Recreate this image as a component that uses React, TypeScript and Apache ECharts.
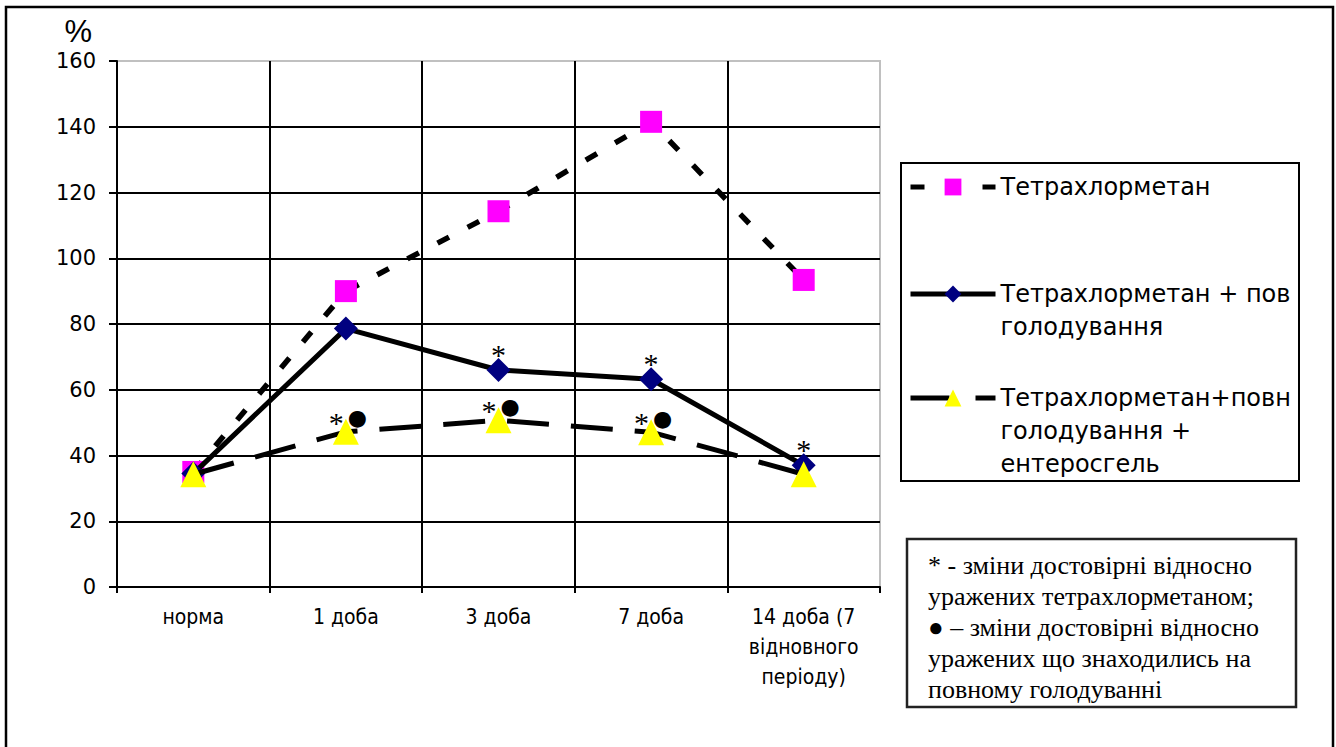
import React, { useEffect, useRef } from 'react';
import * as echarts from 'echarts';

const categories = ['норма', '1 доба', '3 доба', '7 доба', '14 доба (7\nвідновного\nперіоду)'];
const seriesNames = [
  'Тетрахлорметан',
  'Тетрахлорметан + повне голодування',
  'Тетрахлорметан+повне голодування + ентеросгель',
];
// visible (clipped) legend texts, as in the reference
const legendLabels = [
  'Тетрахлорметан',
  '\nТетрахлорметан + пов\nголодування',
  '\n\nТетрахлорметан+повн\nголодування +\nентеросгель',
];
const tetrachlormethane = [35, 90, 114.3, 141.5, 93.4];
const fasting = [34.5, 78.6, 66, 63.2, 37];
const fastingEnterosgel = [34.3, 47.2, 50.7, 47.1, 34.3];
const fastingMarks = ['', '', '*', '*', '*'];
const enterosgelMarks = ['', '*●', '*●', '*●', ''];
const yMin = 0;
const yMax = 160;
const yStep = 20;
const yUnit = '%';
const noteLines = [
  '* - зміни достовірні відносно',
  'уражених тетрахлорметаном;',
  '● – зміни достовірні відносно',
  'уражених що знаходились на',
  'повному голодуванні',
];

const SERIF = 'Liberation Serif, Times New Roman, serif';
const SANS = 'DejaVu Sans, sans-serif';
const NARROW = 'DejaVu Sans Condensed, sans-serif';

export default function App() {
  const ref = useRef<HTMLDivElement>(null);
  useEffect(() => {
    if (!ref.current) return;
    const chart = echarts.init(ref.current, undefined, { renderer: 'svg' });

    const legendBase = {
      orient: 'vertical',
      left: 908,
      padding: 0,
      itemWidth: 85,
      itemHeight: 21,
      itemGap: 0,
      selectedMode: false,
      textStyle: {
        fontFamily: SANS,
        fontSize: 24,
        color: '#000',
        lineHeight: 33,
      },
    };

    const starLabel = (mark: string) =>
      mark
        ? {
            show: true,
            position: 'inside',
            offset: [0, -16],
            formatter: mark,
            fontFamily: SERIF,
            fontSize: 30,
            color: '#000',
          }
        : { show: false };

    const starDotLabel = (mark: string) => {
      if (!mark) return { show: false };
      const [star, dot] = Array.from(mark);
      return {
        show: true,
        position: 'inside',
        offset: [2, -14],
        formatter: `{a|${star}}{b|${dot}}`,
        rich: {
          a: { fontFamily: SERIF, fontSize: 30, color: '#000', padding: [9, 0, 0, 0] },
          b: { fontFamily: SANS, fontSize: 22, color: '#000', padding: [0, 0, 0, 4] },
        },
      };
    };

    chart.setOption({
      animation: false,
      backgroundColor: '#fff',
      grid: {
        left: 117,
        top: 61,
        width: 763,
        height: 526,
        show: true,
        borderColor: '#c0c0c0',
        borderWidth: 2,
        backgroundColor: 'transparent',
      },
      xAxis: {
        type: 'category',
        data: categories,
        boundaryGap: true,
        axisLine: { lineStyle: { color: '#000', width: 2 } },
        axisTick: { show: true, length: 6, lineStyle: { color: '#000', width: 2 } },
        axisLabel: {
          interval: 0,
          fontFamily: NARROW,
          fontSize: 21,
          lineHeight: 30,
          color: '#000',
          margin: 15,
        },
        splitLine: { show: true, showMaxLine: false, lineStyle: { color: '#000', width: 2 } },
      },
      yAxis: {
        type: 'value',
        min: yMin,
        max: yMax,
        interval: yStep,
        name: yUnit,
        nameLocation: 'end',
        nameGap: 14,
        nameTextStyle: {
          fontFamily: 'Liberation Sans, Arial, sans-serif',
          fontSize: 31,
          color: '#000',
          align: 'right',
          padding: [0, 25, 0, 0],
        },
        axisLine: { show: true, lineStyle: { color: '#000', width: 2 } },
        axisTick: { show: true, length: 8, lineStyle: { color: '#000', width: 2 } },
        axisLabel: { fontFamily: SANS, fontSize: 21, color: '#000', margin: 21 },
        splitLine: { show: true, showMaxLine: false, lineStyle: { color: '#000', width: 2 } },
      },
      legend: [
        {
          ...legendBase,
          top: 170.5,
          data: [seriesNames[0]],
          lineStyle: { width: 5, type: [14, 58] },
          formatter: () => legendLabels[0],
        },
        {
          ...legendBase,
          top: 244.5,
          data: [seriesNames[1]],
          lineStyle: { width: 5, type: 'solid' },
          formatter: () => legendLabels[1],
        },
        {
          ...legendBase,
          top: 315.5,
          data: [seriesNames[2]],
          lineStyle: { width: 5, type: [39, 26] },
          formatter: () => legendLabels[2],
        },
      ],
      series: [
        {
          name: seriesNames[0],
          type: 'line',
          data: tetrachlormethane,
          symbol: 'rect',
          symbolSize: 22,
          itemStyle: { color: '#FF00FF' },
          lineStyle: { color: '#000', width: 5.5, type: [13, 21] },
          z: 2,
        },
        {
          name: seriesNames[1],
          type: 'line',
          data: fasting.map((v, i) => ({ value: v, label: starLabel(fastingMarks[i]) })),
          symbol: 'diamond',
          symbolSize: 24,
          itemStyle: { color: '#000080' },
          lineStyle: { color: '#000', width: 5, type: 'solid' },
          z: 3,
        },
        {
          name: seriesNames[2],
          type: 'line',
          data: fastingEnterosgel.map((v, i) => ({ value: v, label: starDotLabel(enterosgelMarks[i]) })),
          symbol: 'triangle',
          symbolSize: 26,
          itemStyle: { color: '#FFFF00' },
          lineStyle: { color: '#000', width: 5, type: [42, 22] },
          z: 4,
        },
      ],
      graphic: [
        {
          type: 'rect',
          silent: true,
          z: -10,
          shape: { x: 6, y: 7, width: 1327, height: 800 },
          style: { fill: 'none', stroke: '#000', lineWidth: 2.5 },
        },
        {
          type: 'rect',
          silent: true,
          shape: { x: 901, y: 163, width: 398, height: 318 },
          style: { fill: 'none', stroke: '#000', lineWidth: 2 },
        },
        {
          type: 'rect',
          silent: true,
          shape: { x: 907, y: 539, width: 389, height: 168 },
          style: { fill: '#fff', stroke: '#222', lineWidth: 2.5 },
        },
        {
          type: 'text',
          silent: true,
          x: 928,
          y: 549.5,
          style: {
            text: noteLines.join('\n'),
            fontFamily: SERIF,
            fontSize: 26,
            lineHeight: 31,
            fill: '#000',
            verticalAlign: 'top',
          },
        },
      ],
    });

    return () => chart.dispose();
  }, []);

  return (
    <div
      ref={ref}
      style={{ position: 'absolute', left: 0, top: 0, width: 1336, height: 747 }}
    />
  );
}
